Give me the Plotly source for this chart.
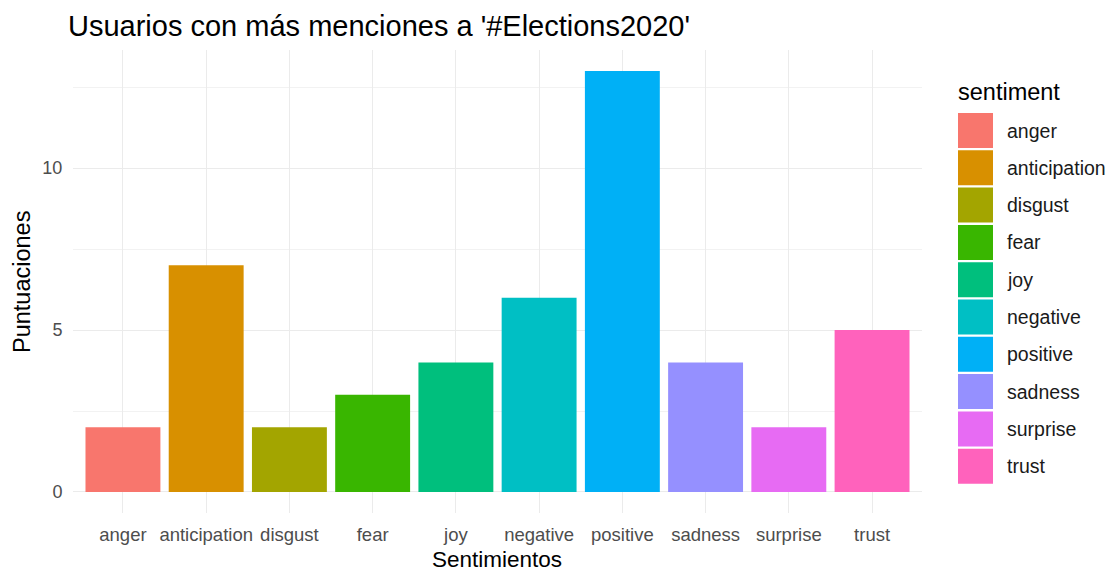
import plotly.graph_objects as go

# Sentiment scores for '#Elections2020'
sentiments = ["anger", "anticipation", "disgust", "fear", "joy",
              "negative", "positive", "sadness", "surprise", "trust"]
scores = [2, 7, 2, 3, 4, 6, 13, 4, 2, 5]
palette = ["#F8766D", "#D89000", "#A3A500", "#39B600", "#00BF7D",
           "#00BFC4", "#00B0F6", "#9590FF", "#E76BF3", "#FF62BC"]
y_ticks = [0, 5, 10]

W, H = 1115, 573
L, R, T, B = 73, 193, 50, 60
FONT = "Liberation Sans, Arial, sans-serif"

fig = go.Figure()
fig.add_trace(go.Bar(
    x=list(range(1, len(sentiments) + 1)), y=scores,
    marker=dict(color=palette, line=dict(width=0)),
    width=0.9, showlegend=False, hoverinfo="x+y",
))

# legend drawn as keys + labels on the right
def px_x(px):
    return (px - L) / (W - L - R)

def px_y(py):
    return (H - B - py) / (H - T - B)

shapes = []
annotations = []
key_top, pitch, key = 113, 37.3, 35
for i, (name, col) in enumerate(zip(sentiments, palette)):
    top = key_top + i * pitch
    shapes.append(dict(type="rect", xref="paper", yref="paper",
                       x0=px_x(958), x1=px_x(958 + key),
                       y0=px_y(top + key), y1=px_y(top),
                       fillcolor=col, line=dict(width=0), layer="above"))
    annotations.append(dict(text=name, xref="paper", yref="paper",
                            x=px_x(1005), y=px_y(top + key / 2),
                            xanchor="left", yanchor="middle", showarrow=False,
                            font=dict(size=19.5, color="#1A1A1A", family=FONT)))
annotations.append(dict(text="sentiment", xref="paper", yref="paper",
                        x=px_x(956), y=px_y(92), xanchor="left", yanchor="middle",
                        showarrow=False, font=dict(size=23.5, color="#000000", family=FONT)))
annotations.append(dict(text="Puntuaciones", xref="paper", yref="paper",
                        x=px_x(22), y=px_y(282), xanchor="center", yanchor="middle",
                        textangle=-90, showarrow=False,
                        font=dict(size=23.5, color="#000000", family=FONT)))
annotations.append(dict(text="Sentimientos", xref="paper", yref="paper",
                        x=px_x(497), y=px_y(559), xanchor="center", yanchor="middle",
                        showarrow=False, font=dict(size=22.5, color="#000000", family=FONT)))

fig.update_layout(
    width=W, height=H,
    margin=dict(l=L, r=R, t=T, b=B),
    paper_bgcolor="white", plot_bgcolor="white",
    title=dict(text="Usuarios con más menciones a '#Elections2020'",
               x=68 / W, xanchor="left", y=1 - 26 / H, yanchor="middle",
               font=dict(size=29, color="#000000", family=FONT)),
    xaxis=dict(
        range=[0.4, len(sentiments) + 0.6],
        tickmode="array", tickvals=list(range(1, len(sentiments) + 1)),
        ticktext=sentiments,
        showgrid=True, gridcolor="#EBEBEB", gridwidth=1,
        zeroline=False, showline=False, ticks="outside", ticklen=5,
        tickcolor="rgba(0,0,0,0)",
        tickfont=dict(size=18.5, color="#4D4D4D", family=FONT),
    ),
    yaxis=dict(
        range=[-0.65, 13.65],
        tickmode="array", tickvals=y_ticks,
        showgrid=True, gridcolor="#EBEBEB", gridwidth=1,
        minor=dict(tickmode="array", tickvals=[2.5, 7.5, 12.5],
                   showgrid=True, gridcolor="#F2F2F2", gridwidth=1),
        zeroline=False, showline=False, ticks="outside", ticklen=6,
        tickcolor="rgba(0,0,0,0)",
        tickfont=dict(size=18, color="#4D4D4D", family=FONT),
    ),
    shapes=shapes, annotations=annotations,
    bargap=0.1,
)

fig.write_html("out.html")
